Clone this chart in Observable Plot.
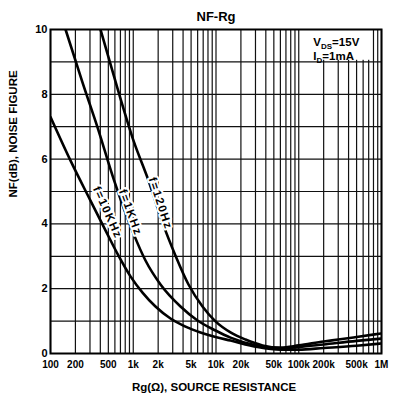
<!DOCTYPE html>
<html>
<head>
<meta charset="utf-8">
<script src="https://cdn.jsdelivr.net/npm/d3@7"></script>
<script src="https://cdn.jsdelivr.net/npm/@observablehq/plot@0.6"></script>
<style>
  body { margin: 0; background: #fff; }
</style>
</head>
<body>
<div id="chart"></div>
<script>
// Noise figure vs. source resistance, three operating frequencies.
const title = "NF-Rg";
const xTitle = "Rg(Ω), SOURCE RESISTANCE";
const yTitle = "NF(dB), NOISE FIGURE";

const xTickValues = [100, 200, 500, 1e3, 2e3, 5e3, 1e4, 2e4, 5e4, 1e5, 2e5, 5e5, 1e6];
const xTickLabels = ["100", "200", "500", "1k", "2k", "5k", "10k", "20k", "50k", "100k", "200k", "500k", "1M"];
const yTickValues = [0, 2, 4, 6, 8, 10];

// f = 120 Hz
const rg120 = [402, 645, 1007, 1529, 2257, 3241, 4652, 6869, 9862, 14970, 22730, 36480, 60190, 100000, 200000, 300000, 500000, 1000000];
const nf120 = [10.0, 8.18, 6.57, 5.34, 4.04, 3.02, 2.13, 1.45, 0.99, 0.65, 0.43, 0.25, 0.18, 0.25, 0.37, 0.43, 0.51, 0.62];
// f = 1 kHz
const rg1k = [152, 244, 370, 577, 1007, 1406, 2135, 3724, 5976, 9862, 14970, 31740, 60190, 100000, 200000, 500000, 1000000];
const nf1k = [10.0, 8.36, 6.98, 5.40, 3.70, 2.87, 2.13, 1.45, 1.02, 0.71, 0.49, 0.24, 0.16, 0.2, 0.28, 0.39, 0.46];
// f = 10 kHz
const rg10k = [100, 174, 304, 462, 663, 926, 1294, 1857, 2819, 4280, 6497, 9862, 14970, 31740, 60190, 100000, 200000, 500000, 1000000];
const nf10k = [7.3, 5.96, 4.72, 3.80, 3.02, 2.38, 1.88, 1.45, 1.08, 0.83, 0.65, 0.51, 0.40, 0.20, 0.12, 0.12, 0.17, 0.24, 0.31];

const curveNames = ["f=120Hz", "f=1KHz", "f=10KHz"];
const labelRg = [2135, 926, 489];
const labelNf = [4.63, 4.35, 4.35];
const labelAngle = [72, 70, 66];

const conditions = ["VDS=15V", "ID=1mA"];

// Long-format table for the line mark
const series = [[rg120, nf120], [rg1k, nf1k], [rg10k, nf10k]];
const rows = series.flatMap(([rg, nf], s) => rg.map((r, i) => ({f: curveNames[s], rg: r, nf: nf[i]})));
const labels = curveNames.map((name, i) => ({name, rg: labelRg[i], nf: labelNf[i], angle: labelAngle[i]}));

// Log grid: every integer multiple inside each decade
const decades = [100, 1e3, 1e4, 1e5];
const xGrid = decades.flatMap(d => [1, 2, 3, 4, 5, 6, 7, 8, 9].map(k => k * d)).concat([1e6]);
const yGrid = d3.range(0, 11);

const chart = Plot.plot({
  width: 401,
  height: 402,
  marginTop: 29,
  marginBottom: 49,
  marginLeft: 50,
  marginRight: 20,
  style: {fontFamily: "'Liberation Sans', Arial, sans-serif", fontWeight: "bold", fontSize: "11px", background: "#fff"},
  x: {type: "log", domain: [100, 1e6], axis: null},
  y: {domain: [0, 10]},
  marks: [
    Plot.ruleX(xGrid, {stroke: "#111", strokeWidth: 1.2}),
    // condition box knocks out the grid behind it
    Plot.rect([0], {x1: () => 1.2e5, x2: () => 7.8e5, y1: () => 9.05, y2: () => 10, fill: "#fff"}),
    Plot.ruleY(yGrid, {stroke: "#111", strokeWidth: 1.2}),
    Plot.line(rows, {x: "rg", y: "nf", z: "f", stroke: "#000", strokeWidth: 2.6, curve: "monotone-x", clip: true}),
    Plot.text(labels, {
      x: "rg", y: "nf", text: "name", rotate: "angle",
      fontSize: 11.5, fill: "#000", stroke: "#fff", strokeWidth: 4
    }),
    Plot.text(conditions, {x: () => 1.5e5, y: (d, i) => [9.6, 9.17][i], text: d => d, textAnchor: "start", fontSize: 11.5}),
    Plot.frame({stroke: "#000", strokeWidth: 2}),
    // x tick labels
    Plot.text(xTickValues, {x: d => d, text: (d, i) => xTickLabels[i], frameAnchor: "bottom", dy: 14, fontSize: 10}),
    Plot.axisY({ticks: yTickValues, tickSize: 0, tickPadding: 3, fontSize: 11, label: null}),
    Plot.text([title], {frameAnchor: "top", dy: -18, fontSize: 13}),
    Plot.text([xTitle], {frameAnchor: "bottom", dy: 37, dx: -2, fontSize: 11.5}),
    Plot.text([yTitle], {frameAnchor: "left", rotate: -90, dx: -37, dy: 6, fontSize: 11.5})
  ]
});

const texts = d3.select(chart).selectAll("text");

// letter spacing on the curve labels
texts.filter(function () { return curveNames.includes(this.textContent); })
  .attr("letter-spacing", "1.5px");

// subscripts in the condition text (V_DS, I_D)
texts.filter(function () { return conditions.includes(this.textContent); }).each(function () {
  const t = d3.select(this);
  const m = this.textContent.match(/^([VI])(DS|D)(=.*)$/);
  if (!m) return;
  t.text(null);
  t.append("tspan").text(m[1]);
  t.append("tspan").attr("font-size", "8px").attr("dy", "3").text(m[2]);
  t.append("tspan").attr("dy", "-3").text(m[3]);
});

document.getElementById("chart").appendChild(chart);
</script>
</body>
</html>
